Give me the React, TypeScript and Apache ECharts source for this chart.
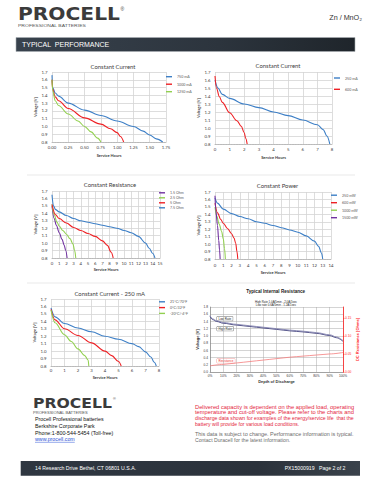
import React, { useEffect, useRef } from "react";
import * as echarts from "echarts";

type Pt = [number, number];

// ---------- Chart 1: Constant Current (hours 0-1.75)
const cc1Names = ["750 mA", "1000 mA", "1250 mA"];
const cc1_750: Pt[] = [[0, 1.66], [0.01, 1.5], [0.05, 1.43], [0.1, 1.39], [0.25, 1.3], [0.5, 1.21], [0.75, 1.14], [1.0, 1.07], [1.25, 1.0], [1.4, 0.94], [1.5, 0.89], [1.6, 0.84], [1.7, 0.8]];
const cc1_1000: Pt[] = [[0, 1.6], [0.01, 1.48], [0.05, 1.38], [0.1, 1.33], [0.25, 1.23], [0.5, 1.11], [0.75, 1.03], [0.9, 0.97], [1.0, 0.92], [1.05, 0.87], [1.1, 0.8]];
const cc1_1250: Pt[] = [[0, 1.6], [0.01, 1.46], [0.05, 1.33], [0.1, 1.27], [0.25, 1.16], [0.4, 1.07], [0.5, 1.0], [0.6, 0.93], [0.7, 0.85], [0.75, 0.8]];

// ---------- Chart 2: Constant Current (hours 0-8)
const cc2Names = ["250 mA", "600 mA"];
const cc2_250: Pt[] = [[0, 1.6], [0.2, 1.5], [0.5, 1.42], [1, 1.37], [2, 1.3], [3, 1.255], [4, 1.2], [5, 1.155], [6, 1.1], [7, 1.04], [7.4, 0.98], [7.65, 0.9], [7.85, 0.8]];
const cc2_600: Pt[] = [[0, 1.65], [0.1, 1.5], [0.3, 1.39], [0.5, 1.32], [1, 1.19], [1.5, 1.09], [1.8, 1.02], [2.0, 0.94], [2.1, 0.87], [2.2, 0.8]];

// ---------- Chart 3: Constant Resistance
const crNames = ["1.5 Ohm", "2.5 Ohm", "5 Ohm", "7.5 Ohm"];
const cr_1_5: Pt[] = [[0, 1.5], [0.3, 1.33], [0.6, 1.24], [1, 1.14], [1.4, 1.05], [1.7, 0.97], [1.9, 0.9], [2.1, 0.8]];
const cr_2_5: Pt[] = [[0, 1.52], [0.3, 1.38], [0.7, 1.28], [1, 1.23], [1.5, 1.17], [2, 1.12], [2.5, 1.06], [2.9, 0.99], [3.15, 0.9], [3.3, 0.8]];
const cr_5: Pt[] = [[0, 1.52], [0.5, 1.38], [1, 1.33], [2, 1.27], [3, 1.21], [4, 1.17], [5, 1.13], [6, 1.09], [7, 1.03], [7.7, 0.97], [8.2, 0.88], [8.5, 0.8]];
const cr_7_5: Pt[] = [[0, 1.65], [0.2, 1.5], [0.5, 1.45], [1, 1.42], [2, 1.37], [3, 1.33], [4, 1.3], [5, 1.28], [6, 1.26], [7, 1.24], [8, 1.22], [9, 1.2], [10, 1.17], [11, 1.14], [12, 1.09], [13, 1.0], [13.5, 0.93], [14, 0.86], [14.3, 0.8]];

// ---------- Chart 4: Constant Power
const cpNames = ["250 mW", "600 mW", "1000 mW", "1500 mW"];
const cp_250: Pt[] = [[0, 1.62], [0.3, 1.55], [1, 1.47], [2, 1.41], [3, 1.37], [4, 1.34], [5, 1.3], [6, 1.28], [7, 1.25], [8, 1.22], [9, 1.19], [10, 1.16], [11, 1.11], [12, 1.04], [12.5, 0.97], [12.85, 0.88], [13, 0.8]];
const cp_600: Pt[] = [[0, 1.55], [0.3, 1.42], [0.7, 1.33], [1, 1.28], [1.5, 1.21], [2, 1.14], [2.3, 1.08], [2.5, 1.01], [2.65, 0.9], [2.75, 0.8]];
const cp_1000: Pt[] = [[0, 1.5], [0.2, 1.38], [0.5, 1.27], [0.8, 1.17], [1.0, 1.07], [1.15, 0.94], [1.25, 0.8]];
const cp_1500: Pt[] = [[0, 1.65], [0.1, 1.45], [0.3, 1.25], [0.45, 1.05], [0.55, 0.92], [0.62, 0.8]];

// ---------- Chart 5: Constant Current - 250 mA at temperatures
const tNames = ["21°C/70°F", "0°C/32°F", "-20°C/-4°F"];
const t_21: Pt[] = [[0, 1.58], [0.3, 1.46], [1, 1.37], [2, 1.31], [3, 1.26], [4, 1.2], [5, 1.16], [6, 1.1], [6.5, 1.06], [7, 0.99], [7.4, 0.92], [7.65, 0.85], [7.8, 0.8]];
const t_0: Pt[] = [[0, 1.56], [0.3, 1.42], [1, 1.3], [2, 1.21], [3, 1.11], [4, 1.0], [4.5, 0.94], [5, 0.86], [5.2, 0.8]];
const t_m20: Pt[] = [[0, 1.55], [0.3, 1.38], [1, 1.22], [1.5, 1.13], [2, 1.03], [2.5, 0.94], [2.75, 0.88], [2.8, 0.8]];

// ---------- Chart 6: Typical Internal Resistance
const irNames = ["High Rate", "Low Rate", "Resistance"];
const ir_high: Pt[] = [[0, 1.54], [2, 1.45], [5, 1.4], [10, 1.35], [20, 1.3], [30, 1.26], [40, 1.22], [50, 1.18], [60, 1.14], [70, 1.11], [80, 1.07], [90, 1.01], [95, 0.95], [100, 0.85]];
const ir_low: Pt[] = [[0, 1.56], [2, 1.47], [5, 1.42], [10, 1.37], [20, 1.32], [30, 1.28], [40, 1.24], [50, 1.2], [60, 1.16], [70, 1.13], [80, 1.09], [90, 1.03], [95, 0.97], [100, 0.87]];
const ir_res: Pt[] = [[0, 0.017], [10, 0.021], [20, 0.025], [30, 0.029], [40, 0.033], [50, 0.037], [60, 0.041], [70, 0.044], [80, 0.047], [90, 0.05], [100, 0.054]];

// ---------- Page texts
const chartTitles = ["Constant Current", "Constant Current", "Constant Resistance", "Constant Power", "Constant Current - 250 mA", "Typical Internal Resistance"];
const irSubtitle = ["High Rate 1.0A/5min - 2.0A/1sec", "Low rate 0.6A/5min - 1.2A/1sec"];
const addressLines = ["Procell Professional batteries", "Berkshire Corporate Park", "Phone:1-800-544-5454 (Toll-free)"];
const webLink = "www.procell.com";
const redNote = [
  "Delivered capacity is dependent on the applied load, operating",
  "temperature and cut-off voltage. Please refer to the charts and",
  "discharge data shown for examples of the energy/service life  that the",
  "battery will provide for various load conditions.",
];
const grayNote = ["This data is subject to change. Performance information is typical.", "Contact Duracell for the latest information."];
const footerLeft = "14 Research Drive Bethel, CT 06801 U.S.A.";
const footerRight = "PX15000919   Page 2 of 2";

const BLUE = "#3d7fc6";
const RED = "#ee2024";
const GREEN = "#92d050";
const PURPLE = "#7030a0";
const LATO = "Lato, 'Open Sans', sans-serif";
const ARIAL = "'Liberation Sans', Arial, sans-serif";
const LOGO = "'DejaVu Sans', sans-serif";

let mctx: CanvasRenderingContext2D | null = null;
function textW(text: string, size: number, family: string, weight = "normal") {
  if (!mctx) mctx = document.createElement("canvas").getContext("2d");
  mctx!.font = `${weight} ${size}px ${family}`;
  return mctx!.measureText(text).width;
}

function txt(x: number, y: number, text: string, o: any = {}) {
  return {
    type: "text",
    x,
    y,
    silent: true,
    scaleX: o.scaleX ?? 1,
    rotation: o.rotation ?? 0,
    style: {
      text,
      fontSize: o.size ?? 5,
      fontFamily: o.family ?? ARIAL,
      fontWeight: o.weight ?? "normal",
      fill: o.fill ?? "#222",
      align: o.align ?? "left",
      verticalAlign: "middle",
      ...(o.extra || {}),
    },
  };
}

function line(name: string, data: Pt[], xi: number, yi: number, color: string, width = 1.1) {
  return {
    type: "line",
    name,
    data,
    xAxisIndex: xi,
    yAxisIndex: yi,
    smooth: 0.35,
    smoothMonotone: "x",
    showSymbol: false,
    symbol: "none",
    silent: true,
    lineStyle: { color, width },
    itemStyle: { color },
  };
}

function buildOption() {
  const svc = [
    { grid: { left: 52, top: 72, width: 114, height: 70 }, xMax: 1.75, xInt: 0.25, dec: 2, nameGap: 11, yGap: 11.5, lblMargin: 3.8 },
    { grid: { left: 215, top: 72, width: 117, height: 72 }, xMax: 8, xInt: 1, dec: 0, nameGap: 11.5, yGap: 10.5, lblMargin: 3.2 },
    { grid: { left: 52, top: 191, width: 108, height: 67 }, xMax: 15, xInt: 1, dec: 0, nameGap: 9.3, yGap: 11, lblMargin: 3.8 },
    { grid: { left: 215, top: 192, width: 116, height: 67 }, xMax: 14, xInt: 1, dec: 0, nameGap: 11.3, yGap: 7.3, lblMargin: 4.5 },
    { grid: { left: 51, top: 299, width: 108, height: 67 }, xMax: 8, xInt: 1, dec: 0, nameGap: 9, yGap: 11.3, lblMargin: 2.6 },
  ];
  const tickText = { fontSize: 4.3, color: "#404040", fontFamily: LATO };
  const grid: any[] = svc.map((s) => ({ ...s.grid, containLabel: false }));
  grid.push({ left: 210, top: 307, width: 133, height: 65, containLabel: false });

  const xAxis: any[] = svc.map((s, i) => ({
    type: "value",
    gridIndex: i,
    min: 0,
    max: s.xMax,
    interval: s.xInt,
    axisLine: { show: true, lineStyle: { color: "#b0b0b0", width: 0.8, type: "dotted" } },
    axisTick: { show: false },
    axisLabel: { ...tickText, margin: s.lblMargin, formatter: (v: number) => v.toFixed(s.dec) },
    splitLine: { show: true, lineStyle: { color: "#d4d4d4", width: 0.8 } },
    name: "Service Hours",
    nameLocation: "middle",
    nameGap: s.nameGap,
    nameTextStyle: { fontSize: 4, fontWeight: "bold", color: "#404040", fontFamily: LATO },
  }));
  xAxis.push({
    type: "value",
    gridIndex: 5,
    min: 0,
    max: 100,
    interval: 10,
    axisLine: { show: true, lineStyle: { color: "#808080", width: 0.6 } },
    axisTick: { show: false },
    axisLabel: { fontSize: 3.2, color: "#333", fontFamily: ARIAL, margin: 1.8, formatter: "{value}%" },
    splitLine: { show: true, lineStyle: { color: "#a8a8a8", width: 0.5 } },
    name: "Depth of Discharge",
    nameLocation: "middle",
    nameGap: 7.2,
    nameTextStyle: { fontSize: 4, fontWeight: "bold", color: "#333", fontFamily: ARIAL },
  });

  const yAxis: any[] = svc.map((s, i) => ({
    type: "value",
    gridIndex: i,
    min: 0.8,
    max: 1.7,
    interval: 0.1,
    axisLine: { show: false },
    axisTick: { show: false },
    axisLabel: { ...tickText, margin: 4.5, formatter: (v: number) => v.toFixed(1) },
    splitLine: { show: true, lineStyle: { color: "#d4d4d4", width: 0.8 } },
    name: "Voltage [V]",
    nameLocation: "middle",
    nameRotate: 90,
    nameGap: s.yGap,
    nameTextStyle: { fontSize: 4, fontWeight: "bold", color: "#404040", fontFamily: LATO },
  }));
  yAxis.push({
    type: "value",
    gridIndex: 5,
    position: "left",
    min: 0,
    max: 1.8,
    interval: 0.2,
    axisLine: { show: true, lineStyle: { color: "#808080", width: 0.6 } },
    axisTick: { show: false },
    axisLabel: { fontSize: 3.2, color: "#333", fontFamily: ARIAL, margin: 2, formatter: (v: number) => v.toFixed(1) },
    splitLine: { show: true, lineStyle: { color: "#a8a8a8", width: 0.5 } },
    name: "Voltage [V]",
    nameLocation: "middle",
    nameRotate: 90,
    nameGap: 8,
    nameTextStyle: { fontSize: 4, fontWeight: "bold", color: "#333", fontFamily: ARIAL },
  });
  yAxis.push({
    type: "value",
    gridIndex: 5,
    position: "right",
    min: 0,
    max: 0.18,
    interval: 0.05,
    axisLine: { show: true, lineStyle: { color: "#ff2020", width: 0.8 } },
    axisTick: { show: true, length: 1.5, lineStyle: { color: "#ff2020", width: 0.5 } },
    axisLabel: { fontSize: 3.2, color: "#ff2020", fontFamily: ARIAL, margin: 2, showMaxLabel: false, formatter: (v: number) => v.toFixed(2) },
    splitLine: { show: false },
    name: "DC Resistance [Ohms]",
    nameLocation: "middle",
    nameRotate: 90,
    nameGap: 12.5,
    nameTextStyle: { fontSize: 4, fontWeight: "bold", color: "#ff2020", fontFamily: ARIAL },
  });

  const series: any[] = [
    line(cc1Names[0], cc1_750, 0, 0, BLUE),
    line(cc1Names[1], cc1_1000, 0, 0, RED),
    line(cc1Names[2], cc1_1250, 0, 0, GREEN),
    line(cc2Names[0], cc2_250, 1, 1, BLUE),
    line(cc2Names[1], cc2_600, 1, 1, RED),
    line(crNames[0], cr_1_5, 2, 2, PURPLE),
    line(crNames[1], cr_2_5, 2, 2, GREEN),
    line(crNames[2], cr_5, 2, 2, RED),
    line(crNames[3], cr_7_5, 2, 2, BLUE),
    line(cpNames[0], cp_250, 3, 3, BLUE),
    line(cpNames[1], cp_600, 3, 3, RED),
    line(cpNames[2], cp_1000, 3, 3, GREEN),
    line(cpNames[3], cp_1500, 3, 3, PURPLE),
    line(tNames[0], t_21, 4, 4, BLUE),
    line(tNames[1], t_0, 4, 4, RED),
    line(tNames[2], t_m20, 4, 4, GREEN),
    line(irNames[0], ir_high, 5, 5, "#3b3b78", 0.9),
    line(irNames[1], ir_low, 5, 5, "#8585b0", 0.9),
    line(irNames[2], ir_res, 5, 6, "#f47c7c", 0.8),
  ];

  const legendBase = (names: string[], left: number, top: number, gap: number) => ({
    data: names,
    orient: "vertical",
    left,
    top,
    padding: 0,
    itemWidth: 6,
    itemHeight: 1.4,
    itemGap: gap,
    icon: "rect",
    selectedMode: false,
    textStyle: { fontSize: 3.6, color: "#595959", fontFamily: LATO, lineHeight: 4 },
  });
  const legend = [
    legendBase(cc1Names, 166, 74.7, 3.5),
    legendBase(cc2Names, 334, 76, 7.3),
    legendBase(crNames, 159, 190.8, 1),
    legendBase(cpNames, 331, 193.2, 3.5),
    legendBase(tNames, 159, 299.8, 1.8),
  ];

  // ---------- graphic: page furniture
  const g: any[] = [];
  // header logo
  const logoW1 = textW("PROCELL", 18, LOGO, "bold");
  g.push(txt(18, 13.6, "PROCELL", { size: 18, family: LOGO, weight: "bold", fill: "#3b3b3b", scaleX: 102 / logoW1 }));
  g.push(txt(120.5, 8.5, "®", { size: 5, fill: "#3b3b3b" }));
  g.push(txt(18, 25.5, "PROFESSIONAL BATTERIES", { size: 4.4, fill: "#555", scaleX: 68 / textW("PROFESSIONAL BATTERIES", 4.4, ARIAL) }));
  g.push(txt(362, 17.5, "Zn / MnO₂", { size: 7.2, fill: "#333", align: "right" }));
  // banner
  g.push({
    type: "rect",
    silent: true,
    shape: { x: 16, y: 37.5, width: 339, height: 14 },
    style: {
      fill: new echarts.graphic.LinearGradient(0, 0, 1, 0, [
        { offset: 0, color: "#38424d" },
        { offset: 0.6, color: "#2c343d" },
        { offset: 1, color: "#1f252b" },
      ]),
      stroke: "#a9aeb3",
      lineWidth: 0.6,
    },
  });
  g.push(txt(22, 44.6, "TYPICAL  PERFORMANCE", { size: 7, fill: "#ffffff" }));
  // separators
  [175, 283].forEach((y) =>
    g.push({ type: "line", silent: true, shape: { x1: 27, y1: y, x2: 355, y2: y }, style: { stroke: "#e3e3e3", lineWidth: 0.8 } })
  );
  // chart titles
  const titlePos: [number, number][] = [[113, 66], [278, 65.7], [110, 184], [277.5, 185.7], [109.7, 293.3]];
  titlePos.forEach(([x, y], i) => g.push(txt(x, y, chartTitles[i], { size: 5.9, family: LATO, fill: "#404040", align: "center" })));
  g.push(txt(275.7, 291, chartTitles[5], { size: 4.6, weight: "bold", fill: "#222", align: "center" }));
  g.push(txt(276, 301.2, irSubtitle[0], { size: 2.9, fill: "#222", align: "center" }));
  g.push(txt(276, 304.3, irSubtitle[1], { size: 2.9, fill: "#222", align: "center" }));
  // chart 6 annotation boxes
  const box = (x: number, y: number, t: string, color: string, border: string) =>
    txt(x, y, t, {
      size: 3,
      fill: color,
      extra: { backgroundColor: "#ffffff", borderColor: border, borderWidth: 0.4, padding: [0.6, 1.5, 0.4, 1.5] },
    });
  g.push(box(217, 318.7, "Low Rate", "#222", "#555"));
  g.push(box(217, 328.7, "High Rate", "#222", "#555"));
  g.push(box(217, 360.8, "Resistance", "#e33", "#f08a8a"));

  // footer logo and address
  const logoW2 = textW("PROCELL", 13.7, LOGO, "bold");
  g.push(txt(33, 402.7, "PROCELL", { size: 13.7, family: LOGO, weight: "bold", fill: "#3b3b3b", scaleX: 79 / logoW2 }));
  g.push(txt(113, 398.5, "®", { size: 3.8, fill: "#3b3b3b" }));
  g.push(txt(33, 412.8, "PROFESSIONAL BATTERIES", { size: 3.5, fill: "#555", scaleX: 55 / textW("PROFESSIONAL BATTERIES", 3.5, ARIAL) }));
  const addrY = [419.2, 426.2, 432.8];
  addressLines.forEach((t, i) => g.push(txt(35, addrY[i], t, { size: 5.3, fill: "#111" })));
  const linkW = textW(webLink, 5.3, ARIAL);
  g.push(txt(35, 439.3, webLink, { size: 5.3, fill: "#2a52d6" }));
  g.push({ type: "line", silent: true, shape: { x1: 35, y1: 442.3, x2: 35 + linkW, y2: 442.3 }, style: { stroke: "#2a52d6", lineWidth: 0.5 } });

  // notes (justified lines stretched to the column width)
  const colX = 195;
  const colW = 159;
  const redY = [406.7, 412.3, 418, 423.5];
  redNote.forEach((t, i) => {
    const w = textW(t, 5.1, ARIAL);
    const sx = i < redNote.length - 1 ? Math.min(1.25, colW / w) : 1;
    g.push(txt(colX, redY[i], t, { size: 5.1, fill: "#e41e3c", scaleX: sx }));
  });
  const grayY = [434.3, 440];
  grayNote.forEach((t, i) => {
    const w = textW(t, 5.1, ARIAL);
    const sx = i === 0 ? Math.min(1.25, colW / w) : 1;
    g.push(txt(colX, grayY[i], t, { size: 5.1, fill: "#6b6b6b", scaleX: sx }));
  });

  // footer bar
  g.push({
    type: "rect",
    silent: true,
    shape: { x: 20.7, y: 461, width: 339.3, height: 14.7 },
    style: {
      fill: new echarts.graphic.LinearGradient(0, 0, 1, 0, [
        { offset: 0, color: "#2f3741" },
        { offset: 0.7, color: "#2b323b" },
        { offset: 1, color: "#3a424b" },
      ]),
    },
  });
  g.push(txt(35, 468.4, footerLeft, { size: 5.2, fill: "#ffffff" }));
  g.push(txt(345.5, 468.4, footerRight, { size: 5.2, fill: "#ffffff", align: "right" }));

  return {
    animation: false,
    backgroundColor: "#ffffff",
    grid,
    xAxis,
    yAxis,
    series,
    legend,
    graphic: { elements: g },
  };
}

export default function App() {
  const ref = useRef<HTMLDivElement>(null);
  useEffect(() => {
    const chart = echarts.init(ref.current!, null, { renderer: "svg" });
    chart.setOption(buildOption() as any);
    return () => chart.dispose();
  }, []);
  return (
    <div
      ref={ref}
      style={{ position: "absolute", left: 0, top: 0, width: 371, height: 480, background: "#ffffff" }}
    />
  );
}
